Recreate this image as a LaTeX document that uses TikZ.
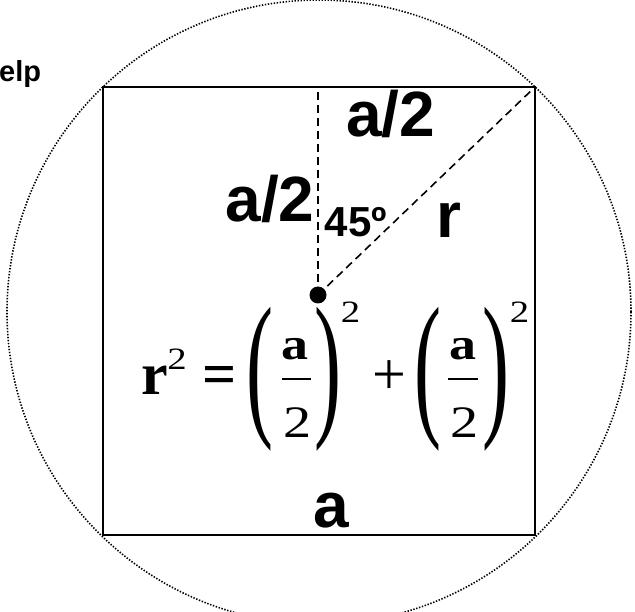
\documentclass[tikz,border=0pt]{standalone}
\usepackage{fontspec}
\setmainfont{Liberation Serif}
\newfontfamily\arialf{Liberation Sans}
\usepackage{graphicx}
\begin{document}
\begin{tikzpicture}[x=1pt,y=-1pt,
  sansbig/.style={font=\arialf\bfseries\fontsize{64}{64}\selectfont, inner sep=0pt, anchor=base},
  sansmid/.style={font=\arialf\bfseries\fontsize{42}{42}\selectfont, inner sep=0pt, anchor=base},
  serbig/.style={font=\fontsize{60}{60}\selectfont, inner sep=0pt, anchor=base},
  serfrac/.style={font=\fontsize{45}{45}\selectfont, inner sep=0pt, anchor=base},
  sersup/.style={font=\fontsize{31}{31}\selectfont, inner sep=0pt, anchor=base},
  paren/.style={font=\fontsize{60}{60}\selectfont, inner sep=0pt, anchor=center},
  dashline/.style={line width=1.6pt, dash pattern=on 8pt off 5pt},
  fracbar/.style={line width=2pt}]
\useasboundingbox (0,0) rectangle (635,612);
% square and circumscribed circle
\coordinate (tl) at (103,87);
\coordinate (tr) at (535,87);
\coordinate (br) at (535,535);
\coordinate (bl) at (103,535);
\draw[line width=2.5pt] (tl) -- (tr) -- (br) -- (bl) -- cycle;
\draw[line width=1.6pt, dash pattern=on 1.4pt off 1.6pt] (319,312) circle[radius=312];
% centre point and dashed lines
\node[circle, fill=black, inner sep=0pt, minimum size=17pt] (o) at (318,295) {};
\draw[dashline] (o.center) -- (o.center |- tl);
\draw[dashline] (o.center) -- (tr);
% labels
\node[font=\arialf\bfseries\fontsize{29}{29}\selectfont, inner sep=0pt, anchor=base west] (help) at (-1,82) {elp};
\node[sansbig] (half1) at (270,222) {a/2};
\node[sansbig] (half2) at (390.5,137) {a/2};
\node[sansmid] (ang) at (356,237) {45º};
\node[sansbig] (rad) at (449,238) {r};
\node[sansbig] (side) at (331.5,527) {a};
% equation
\node[serbig] (er) at (155,395) {\bfseries r};
\node[sersup] (er2) at (177,370) {\scalebox{1.25}[1]{2}};
\node[serbig] (eq) at (219.5,395) {\bfseries =};
\node[paren] (p1) at (260,379) {\scalebox{1.35}[2.65]{(}};
\node[serfrac] (fa1) at (294.5,360) {\scalebox{1.2}[1]{\bfseries a}};
\node[serfrac] (f21) at (297.5,437) {\scalebox{1.25}[1]{2}};
\draw[fracbar] (282,379) -- (311,379);
\node[paren] (p2) at (327.5,379) {\scalebox{1.35}[2.65]{)}};
\node[sersup] (s1) at (350.5,323) {\scalebox{1.25}[1]{2}};
\node[serbig] (plus) at (389,395) {+};
\node[paren] (p3) at (427.5,379) {\scalebox{1.35}[2.65]{(}};
\node[serfrac] (fa2) at (463,360) {\scalebox{1.2}[1]{\bfseries a}};
\node[serfrac] (f22) at (464.5,437) {\scalebox{1.25}[1]{2}};
\draw[fracbar] (448,379) -- (478,379);
\node[paren] (p4) at (495.5,379) {\scalebox{1.35}[2.65]{)}};
\node[sersup] (s2) at (519.5,323) {\scalebox{1.25}[1]{2}};
\end{tikzpicture}
\end{document}
